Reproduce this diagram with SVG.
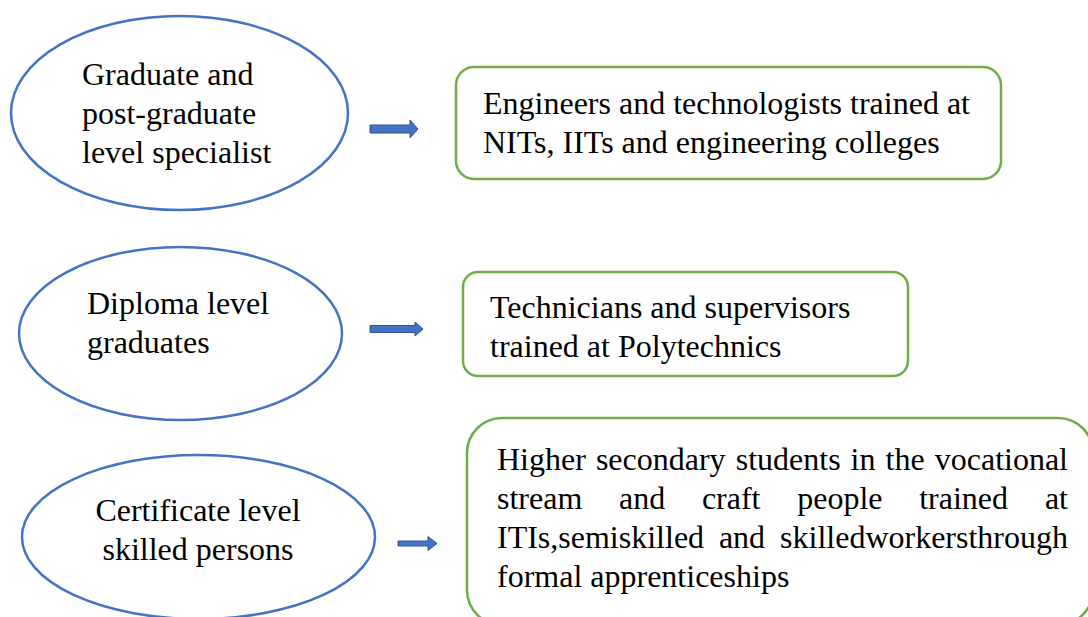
<svg xmlns="http://www.w3.org/2000/svg" width="1088" height="617" viewBox="0 0 1088 617">
  <style>
    .level { fill: #ffffff; stroke: #4472C4; stroke-width: 2.5; }
    .route { fill: #ffffff; stroke: #70AD47; stroke-width: 2.5; }
    .arrow { fill: #4472C4; stroke: #2F528F; stroke-width: 1; }
    .t { font-family: "Liberation Serif", "Times New Roman", serif; font-size: 32px; fill: #000000; }
  </style>
  <rect x="0" y="0" width="1088" height="617" fill="#ffffff"/>

  <!-- qualification levels -->
  <g id="graduate-level">
    <ellipse class="level" cx="179.5" cy="113" rx="168.5" ry="97"/>
    <text class="t" x="82" y="85">Graduate and</text>
    <text class="t" x="82" y="124">post-graduate</text>
    <text class="t" x="82" y="163">level specialist</text>
  </g>

  <g id="diploma-level">
    <ellipse class="level" cx="180.5" cy="333.5" rx="161.5" ry="86.5"/>
    <text class="t" x="87" y="314">Diploma level</text>
    <text class="t" x="87" y="353">graduates</text>
  </g>

  <g id="certificate-level">
    <ellipse class="level" cx="198.5" cy="537" rx="176.5" ry="82"/>
    <text class="t" x="198" y="521" text-anchor="middle">Certificate level</text>
    <text class="t" x="198" y="560" text-anchor="middle">skilled persons</text>
  </g>

  <!-- training routes -->
  <g id="engineers">
    <rect class="route" x="456" y="67" width="545" height="112" rx="18" ry="18"/>
    <text class="t" x="483" y="114">Engineers and technologists trained at</text>
    <text class="t" x="483" y="153">NITs, IITs and engineering colleges</text>
  </g>

  <g id="technicians">
    <rect class="route" x="463" y="272" width="445" height="104" rx="15" ry="15"/>
    <text class="t" x="490" y="318">Technicians and supervisors</text>
    <text class="t" x="490" y="357">trained at Polytechnics</text>
  </g>

  <g id="skilled-workers">
    <rect class="route" x="467" y="418" width="626" height="207" rx="35" ry="35"/>
    <!-- justified lines: words placed individually -->
    <text class="t" y="470">
      <tspan x="497">Higher</tspan>
      <tspan x="595.9">secondary</tspan>
      <tspan x="735.7">students</tspan>
      <tspan x="850.6">in</tspan>
      <tspan x="885.5">the</tspan>
    </text>
    <text class="t" x="1068" y="470" text-anchor="end">vocational</text>
    <text class="t" y="509">
      <tspan x="497">stream</tspan>
      <tspan x="619">and</tspan>
      <tspan x="701.9">craft</tspan>
      <tspan x="797.2">people</tspan>
      <tspan x="919.2">trained</tspan>
    </text>
    <text class="t" x="1068" y="509" text-anchor="end">at</text>
    <text class="t" y="548">
      <tspan x="497">ITIs,semiskilled</tspan>
      <tspan x="718.9">and</tspan>
    </text>
    <text class="t" x="1068" y="548" text-anchor="end">skilledworkersthrough</text>
    <text class="t" x="497" y="587">formal apprenticeships</text>
  </g>

  <!-- block arrows -->
  <g id="connectors">
    <path class="arrow" d="M370,125 H410 V120 L418,129 L410,138 V133 H370 Z"/>
    <path class="arrow" d="M370,325.5 H415 V322 L423,329 L415,336 V332.5 H370 Z"/>
    <path class="arrow" d="M398,541 H428 V536.5 L437,543.5 L428,550.5 V546 H398 Z"/>
  </g>
</svg>
